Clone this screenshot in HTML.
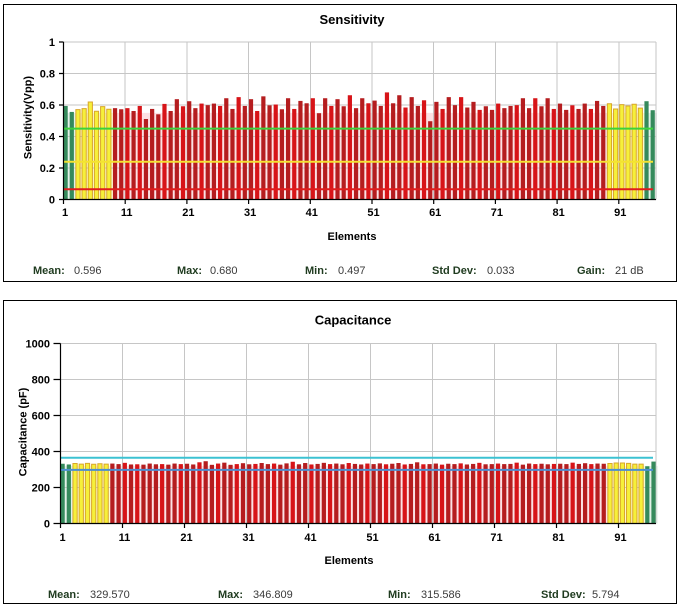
<!DOCTYPE html>
<html><head><meta charset="utf-8"><style>
html,body{margin:0;padding:0;background:#fff;}
svg{display:block;font-family:"Liberation Sans",Arial,sans-serif;}
.g{fill:#358a5c}
.y{fill:#f6f03a;stroke:#d9a62a;stroke-width:1;vector-effect:non-scaling-stroke}
.d{fill:#b51d1f}
.b{fill:#d71418}
.t{font-size:11px;font-weight:bold;fill:#000}
.sl{font-size:11px;font-weight:bold;fill:#1f3b1f}
.sv{font-size:11px;fill:#3a3a3a}
</style></head><body>
<svg width="683" height="610" viewBox="0 0 683 610" xmlns="http://www.w3.org/2000/svg">
<rect x="0" y="0" width="683" height="610" fill="#fff"/>
<rect x="3.5" y="4.5" width="673" height="277" fill="#fff" stroke="#000" stroke-width="1"/>
<text x="352" y="24" text-anchor="middle" style="font-size:13px;font-weight:bold">Sensitivity</text>
<g transform="translate(63.5 199.5) scale(6.18 -157.5)">
<rect x="0" y="0" width="2" height=".55" fill="#e2f1e7"/>
<rect x="2" y="0" width="6" height=".55" fill="#fdfbcf"/>
<rect x="8" y="0" width="80" height=".55" fill="#fce1e4"/>
<rect x="88" y="0" width="6" height=".55" fill="#fdfbcf"/>
<rect x="94" y="0" width="2" height=".55" fill="#e2f1e7"/>
</g>
<g stroke="#c6c6c6" stroke-width="1" fill="none" shape-rendering="crispEdges">
<path d="M63.5 42H656M63.5 73.5H656M63.5 105H656M63.5 136.5H656M63.5 168H656"/>
<path d="M125.2 42V199.5M186.9 42V199.5M248.6 42V199.5M310.3 42V199.5M372 42V199.5M433.7 42V199.5M495.4 42V199.5M557.1 42V199.5M618.8 42V199.5M656 42V199.5"/>
</g>
<g transform="translate(63.5 199.5) scale(6.18 -157.5)">
<rect class="g" x="0" width=".68" height=".594"/>
<rect class="g" x="1" width=".68" height=".556"/>
<rect class="y" x="2" width=".68" height=".571"/>
<rect class="y" x="3" width=".68" height=".577"/>
<rect class="y" x="4" width=".68" height=".619"/>
<rect class="y" x="5" width=".68" height=".560"/>
<rect class="y" x="6" width=".68" height=".590"/>
<rect class="y" x="7" width=".68" height=".573"/>
<rect class="d" x="8" width=".68" height=".580"/>
<rect class="d" x="9" width=".68" height=".573"/>
<rect class="b" x="10" width=".68" height=".580"/>
<rect class="d" x="11" width=".68" height=".562"/>
<rect class="b" x="12" width=".68" height=".594"/>
<rect class="d" x="13" width=".68" height=".511"/>
<rect class="d" x="14" width=".68" height=".575"/>
<rect class="d" x="15" width=".68" height=".541"/>
<rect class="b" x="16" width=".68" height=".607"/>
<rect class="d" x="17" width=".68" height=".562"/>
<rect class="d" x="18" width=".68" height=".637"/>
<rect class="b" x="19" width=".68" height=".592"/>
<rect class="d" x="20" width=".68" height=".624"/>
<rect class="d" x="21" width=".68" height=".580"/>
<rect class="b" x="22" width=".68" height=".609"/>
<rect class="d" x="23" width=".68" height=".599"/>
<rect class="d" x="24" width=".68" height=".609"/>
<rect class="b" x="25" width=".68" height=".594"/>
<rect class="d" x="26" width=".68" height=".643"/>
<rect class="d" x="27" width=".68" height=".575"/>
<rect class="b" x="28" width=".68" height=".650"/>
<rect class="d" x="29" width=".68" height=".594"/>
<rect class="d" x="30" width=".68" height=".637"/>
<rect class="b" x="31" width=".68" height=".562"/>
<rect class="d" x="32" width=".68" height=".655"/>
<rect class="d" x="33" width=".68" height=".598"/>
<rect class="b" x="34" width=".68" height=".603"/>
<rect class="d" x="35" width=".68" height=".573"/>
<rect class="d" x="36" width=".68" height=".643"/>
<rect class="b" x="37" width=".68" height=".575"/>
<rect class="d" x="38" width=".68" height=".626"/>
<rect class="d" x="39" width=".68" height=".611"/>
<rect class="b" x="40" width=".68" height=".643"/>
<rect class="d" x="41" width=".68" height=".548"/>
<rect class="d" x="42" width=".68" height=".643"/>
<rect class="b" x="43" width=".68" height=".594"/>
<rect class="d" x="44" width=".68" height=".637"/>
<rect class="d" x="45" width=".68" height=".592"/>
<rect class="b" x="46" width=".68" height=".662"/>
<rect class="d" x="47" width=".68" height=".580"/>
<rect class="d" x="48" width=".68" height=".643"/>
<rect class="b" x="49" width=".68" height=".611"/>
<rect class="d" x="50" width=".68" height=".628"/>
<rect class="d" x="51" width=".68" height=".594"/>
<rect class="b" x="52" width=".68" height=".680"/>
<rect class="d" x="53" width=".68" height=".611"/>
<rect class="d" x="54" width=".68" height=".662"/>
<rect class="b" x="55" width=".68" height=".584"/>
<rect class="d" x="56" width=".68" height=".650"/>
<rect class="d" x="57" width=".68" height=".594"/>
<rect class="b" x="58" width=".68" height=".630"/>
<rect class="d" x="59" width=".68" height=".497"/>
<rect class="d" x="60" width=".68" height=".620"/>
<rect class="b" x="61" width=".68" height=".575"/>
<rect class="d" x="62" width=".68" height=".650"/>
<rect class="d" x="63" width=".68" height=".599"/>
<rect class="b" x="64" width=".68" height=".650"/>
<rect class="d" x="65" width=".68" height=".584"/>
<rect class="d" x="66" width=".68" height=".620"/>
<rect class="b" x="67" width=".68" height=".569"/>
<rect class="d" x="68" width=".68" height=".592"/>
<rect class="d" x="69" width=".68" height=".569"/>
<rect class="b" x="70" width=".68" height=".609"/>
<rect class="d" x="71" width=".68" height=".580"/>
<rect class="d" x="72" width=".68" height=".594"/>
<rect class="b" x="73" width=".68" height=".599"/>
<rect class="d" x="74" width=".68" height=".643"/>
<rect class="d" x="75" width=".68" height=".580"/>
<rect class="b" x="76" width=".68" height=".643"/>
<rect class="d" x="77" width=".68" height=".592"/>
<rect class="d" x="78" width=".68" height=".643"/>
<rect class="b" x="79" width=".68" height=".575"/>
<rect class="d" x="80" width=".68" height=".609"/>
<rect class="d" x="81" width=".68" height=".569"/>
<rect class="b" x="82" width=".68" height=".598"/>
<rect class="d" x="83" width=".68" height=".575"/>
<rect class="d" x="84" width=".68" height=".609"/>
<rect class="b" x="85" width=".68" height=".575"/>
<rect class="d" x="86" width=".68" height=".626"/>
<rect class="d" x="87" width=".68" height=".594"/>
<rect class="y" x="88" width=".68" height=".608"/>
<rect class="y" x="89" width=".68" height=".575"/>
<rect class="y" x="90" width=".68" height=".602"/>
<rect class="y" x="91" width=".68" height=".594"/>
<rect class="y" x="92" width=".68" height=".605"/>
<rect class="y" x="93" width=".68" height=".580"/>
<rect class="g" x="94" width=".68" height=".624"/>
<rect class="g" x="95" width=".68" height=".567"/>
</g>
<path d="M63.5 128.6H653" stroke="#3cd23c" stroke-width="2"/>
<path d="M63.5 161.7H653" stroke="#f4e232" stroke-width="2"/>
<path d="M63.5 189.3H653" stroke="#e01c1c" stroke-width="2"/>
<g stroke="#000" stroke-width="1.2" fill="none">
<path d="M63.5 42V199.5H656"/>
<path d="M59 42H63.5M59 73.5H63.5M59 105H63.5M59 136.5H63.5M59 168H63.5M59 199.5H63.5"/>
<path d="M63.5 199.5V204M125.2 199.5V204M186.9 199.5V204M248.6 199.5V204M310.3 199.5V204M372 199.5V204M433.7 199.5V204M495.4 199.5V204M557.1 199.5V204M618.8 199.5V204"/>
</g>
<g text-anchor="end">
<text x="55" y="46" class="t">1</text>
<text x="55" y="77.5" class="t">0.8</text>
<text x="55" y="109" class="t">0.6</text>
<text x="55" y="140.5" class="t">0.4</text>
<text x="55" y="172" class="t">0.2</text>
<text x="55" y="203.5" class="t">0</text>
</g>
<g text-anchor="middle">
<text x="65" y="216" class="t">1</text>
<text x="126.7" y="216" class="t">11</text>
<text x="188.4" y="216" class="t">21</text>
<text x="250.1" y="216" class="t">31</text>
<text x="311.8" y="216" class="t">41</text>
<text x="373.5" y="216" class="t">51</text>
<text x="435.2" y="216" class="t">61</text>
<text x="496.9" y="216" class="t">71</text>
<text x="558.6" y="216" class="t">81</text>
<text x="620.3" y="216" class="t">91</text>
<text x="352" y="240" class="t">Elements</text>
</g>
<text transform="translate(31.5 117.5) rotate(-90)" text-anchor="middle" class="t">Sensitivity(Vpp)</text>
<text x="33" y="274" class="sl">Mean:</text><text x="74" y="274" class="sv">0.596</text>
<text x="177" y="274" class="sl">Max:</text><text x="210" y="274" class="sv">0.680</text>
<text x="305" y="274" class="sl">Min:</text><text x="338" y="274" class="sv">0.497</text>
<text x="432" y="274" class="sl">Std Dev:</text><text x="487" y="274" class="sv">0.033</text>
<text x="577" y="274" class="sl">Gain:</text><text x="615" y="274" class="sv">21 dB</text>

<rect x="3.5" y="300.5" width="673" height="303" fill="#fff" stroke="#000" stroke-width="1"/>
<text x="353" y="324.5" text-anchor="middle" style="font-size:13px;font-weight:bold">Capacitance</text>
<g transform="translate(60.5 523.5) scale(6.22 -0.18)">
<rect x="0" y="0" width="2" height="320" fill="#e2f1e7"/>
<rect x="2" y="0" width="6" height="320" fill="#fdfbcf"/>
<rect x="8" y="0" width="80" height="320" fill="#fce1e4"/>
<rect x="88" y="0" width="6" height="320" fill="#fdfbcf"/>
<rect x="94" y="0" width="2" height="320" fill="#e2f1e7"/>
</g>
<g stroke="#c6c6c6" stroke-width="1" fill="none" shape-rendering="crispEdges">
<path d="M60.5 343.5H656M60.5 379.5H656M60.5 415.5H656M60.5 451.5H656M60.5 487.5H656"/>
<path d="M122.5 343.5V523.5M184.5 343.5V523.5M246.5 343.5V523.5M308.5 343.5V523.5M370.5 343.5V523.5M432.5 343.5V523.5M494.5 343.5V523.5M556.5 343.5V523.5M618.5 343.5V523.5M656 343.5V523.5"/>
</g>
<g transform="translate(60.5 523.5) scale(6.22 -0.18)">
<rect class="g" x="0" width=".68" height="332"/>
<rect class="g" x="1" width=".68" height="328"/>
<rect class="y" x="2" width=".68" height="333"/>
<rect class="y" x="3" width=".68" height="330"/>
<rect class="y" x="4" width=".68" height="334"/>
<rect class="y" x="5" width=".68" height="329"/>
<rect class="y" x="6" width=".68" height="332"/>
<rect class="y" x="7" width=".68" height="330"/>
<rect class="d" x="8" width=".68" height="333"/>
<rect class="d" x="9" width=".68" height="330"/>
<rect class="b" x="10" width=".68" height="337"/>
<rect class="d" x="11" width=".68" height="328"/>
<rect class="b" x="12" width=".68" height="329"/>
<rect class="d" x="13" width=".68" height="327"/>
<rect class="d" x="14" width=".68" height="333"/>
<rect class="d" x="15" width=".68" height="329"/>
<rect class="b" x="16" width=".68" height="330"/>
<rect class="d" x="17" width=".68" height="327"/>
<rect class="d" x="18" width=".68" height="333"/>
<rect class="b" x="19" width=".68" height="330"/>
<rect class="d" x="20" width=".68" height="332"/>
<rect class="d" x="21" width=".68" height="328"/>
<rect class="b" x="22" width=".68" height="340"/>
<rect class="d" x="23" width=".68" height="346"/>
<rect class="d" x="24" width=".68" height="326"/>
<rect class="b" x="25" width=".68" height="333"/>
<rect class="d" x="26" width=".68" height="338"/>
<rect class="d" x="27" width=".68" height="326"/>
<rect class="b" x="28" width=".68" height="330"/>
<rect class="d" x="29" width=".68" height="335"/>
<rect class="d" x="30" width=".68" height="329"/>
<rect class="b" x="31" width=".68" height="331"/>
<rect class="d" x="32" width=".68" height="336"/>
<rect class="d" x="33" width=".68" height="330"/>
<rect class="b" x="34" width=".68" height="333"/>
<rect class="d" x="35" width=".68" height="327"/>
<rect class="d" x="36" width=".68" height="334"/>
<rect class="b" x="37" width=".68" height="343"/>
<rect class="d" x="38" width=".68" height="329"/>
<rect class="d" x="39" width=".68" height="336"/>
<rect class="b" x="40" width=".68" height="328"/>
<rect class="d" x="41" width=".68" height="331"/>
<rect class="d" x="42" width=".68" height="337"/>
<rect class="b" x="43" width=".68" height="330"/>
<rect class="d" x="44" width=".68" height="333"/>
<rect class="d" x="45" width=".68" height="329"/>
<rect class="b" x="46" width=".68" height="336"/>
<rect class="d" x="47" width=".68" height="331"/>
<rect class="d" x="48" width=".68" height="328"/>
<rect class="b" x="49" width=".68" height="333"/>
<rect class="d" x="50" width=".68" height="330"/>
<rect class="d" x="51" width=".68" height="334"/>
<rect class="b" x="52" width=".68" height="329"/>
<rect class="d" x="53" width=".68" height="332"/>
<rect class="d" x="54" width=".68" height="336"/>
<rect class="b" x="55" width=".68" height="328"/>
<rect class="d" x="56" width=".68" height="331"/>
<rect class="d" x="57" width=".68" height="340"/>
<rect class="b" x="58" width=".68" height="329"/>
<rect class="d" x="59" width=".68" height="330"/>
<rect class="d" x="60" width=".68" height="333"/>
<rect class="b" x="61" width=".68" height="327"/>
<rect class="d" x="62" width=".68" height="332"/>
<rect class="d" x="63" width=".68" height="330"/>
<rect class="b" x="64" width=".68" height="334"/>
<rect class="d" x="65" width=".68" height="328"/>
<rect class="d" x="66" width=".68" height="331"/>
<rect class="b" x="67" width=".68" height="337"/>
<rect class="d" x="68" width=".68" height="329"/>
<rect class="d" x="69" width=".68" height="330"/>
<rect class="b" x="70" width=".68" height="333"/>
<rect class="d" x="71" width=".68" height="330"/>
<rect class="d" x="72" width=".68" height="331"/>
<rect class="b" x="73" width=".68" height="338"/>
<rect class="d" x="74" width=".68" height="327"/>
<rect class="d" x="75" width=".68" height="333"/>
<rect class="b" x="76" width=".68" height="330"/>
<rect class="d" x="77" width=".68" height="332"/>
<rect class="d" x="78" width=".68" height="329"/>
<rect class="b" x="79" width=".68" height="331"/>
<rect class="d" x="80" width=".68" height="332"/>
<rect class="d" x="81" width=".68" height="330"/>
<rect class="b" x="82" width=".68" height="338"/>
<rect class="d" x="83" width=".68" height="331"/>
<rect class="d" x="84" width=".68" height="335"/>
<rect class="b" x="85" width=".68" height="330"/>
<rect class="d" x="86" width=".68" height="333"/>
<rect class="d" x="87" width=".68" height="332"/>
<rect class="y" x="88" width=".68" height="333"/>
<rect class="y" x="89" width=".68" height="336"/>
<rect class="y" x="90" width=".68" height="336"/>
<rect class="y" x="91" width=".68" height="334"/>
<rect class="y" x="92" width=".68" height="330"/>
<rect class="y" x="93" width=".68" height="330"/>
<rect class="g" x="94" width=".68" height="318"/>
<rect class="g" x="95" width=".68" height="344"/>
</g>
<path d="M60.5 457.8H653" stroke="#3cc2d2" stroke-width="2"/>
<path d="M60.5 469.9H653" stroke="#4a8ed2" stroke-width="2"/>
<g stroke="#000" stroke-width="1.2" fill="none">
<path d="M60.5 343.5V523.5H656"/>
<path d="M53.5 343.5H60.5M53.5 379.5H60.5M53.5 415.5H60.5M53.5 451.5H60.5M53.5 487.5H60.5M53.5 523.5H60.5"/>
<path d="M60.5 523.5V528M122.5 523.5V528M184.5 523.5V528M246.5 523.5V528M308.5 523.5V528M370.5 523.5V528M432.5 523.5V528M494.5 523.5V528M556.5 523.5V528M618.5 523.5V528"/>
</g>
<g text-anchor="end">
<text x="50" y="347.5" class="t">1000</text>
<text x="50" y="383.5" class="t">800</text>
<text x="50" y="419.5" class="t">600</text>
<text x="50" y="455.5" class="t">400</text>
<text x="50" y="491.5" class="t">200</text>
<text x="50" y="527.5" class="t">0</text>
</g>
<g text-anchor="middle">
<text x="62.5" y="541" class="t">1</text>
<text x="124.5" y="541" class="t">11</text>
<text x="186.5" y="541" class="t">21</text>
<text x="248.5" y="541" class="t">31</text>
<text x="310.5" y="541" class="t">41</text>
<text x="372.5" y="541" class="t">51</text>
<text x="434.5" y="541" class="t">61</text>
<text x="496.5" y="541" class="t">71</text>
<text x="558.5" y="541" class="t">81</text>
<text x="620.5" y="541" class="t">91</text>
<text x="349" y="564" class="t">Elements</text>
</g>
<text transform="translate(26.5 432) rotate(-90)" text-anchor="middle" class="t">Capacitance (pF)</text>
<text x="48" y="598" class="sl">Mean:</text><text x="90" y="598" class="sv">329.570</text>
<text x="218" y="598" class="sl">Max:</text><text x="253" y="598" class="sv">346.809</text>
<text x="388" y="598" class="sl">Min:</text><text x="421" y="598" class="sv">315.586</text>
<text x="541" y="598" class="sl">Std Dev:</text><text x="592" y="598" class="sv">5.794</text>
</svg>
</body></html>
